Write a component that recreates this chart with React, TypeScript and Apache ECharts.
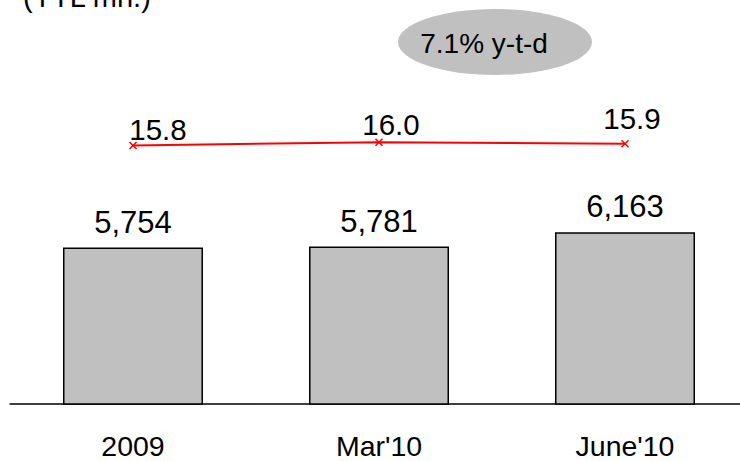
import React, { useEffect, useRef } from "react";
import * as echarts from "echarts";

const categories = ["2009", "Mar'10", "June'10"];
const barValues = [5754, 5781, 6163];
const lineValues = [15.8, 16.0, 15.9];
const unitLabel = "(YTL mn.)";
const growthLabel = "7.1% y-t-d";

const FONT = "'Liberation Sans', Arial, sans-serif";
const lineLabelOffsets = [[25, 3], [12, 2], [7, -6]];

export default function App() {
  const ref = useRef<HTMLDivElement>(null);
  useEffect(() => {
    document.body.style.margin = "0";
    if (!ref.current) return;
    const chart = echarts.init(ref.current, null, { renderer: "svg" });
    chart.setOption({
      animation: false,
      grid: { left: 10, width: 738, top: 44, bottom: 57, outerBoundsMode: "none", containLabel: false },
      xAxis: {
        type: "category",
        data: categories,
        axisTick: { show: false },
        axisLine: { show: true, lineStyle: { color: "#000", width: 1.5 } },
        axisLabel: { color: "#000", fontSize: 28.5, fontFamily: FONT, margin: 27 },
      },
      yAxis: [
        { type: "value", min: 1600, max: 11162, show: false, splitLine: { show: false } },
        { type: "value", min: 0, max: 22, show: false, splitLine: { show: false } },
      ],
      series: [
        {
          type: "bar",
          data: barValues,
          barWidth: 140,
          itemStyle: { color: "#c0c0c0", borderColor: "#000", borderWidth: 1.5 },
          label: {
            show: true,
            position: "top",
            distance: 10,
            color: "#000",
            fontSize: 31,
            fontFamily: FONT,
            formatter: (p: any) => p.value.toLocaleString("en-US"),
          },
        },
        {
          type: "line",
          yAxisIndex: 1,
          data: lineValues.map((v, i) => ({
            value: v,
            label: { offset: lineLabelOffsets[i] },
          })),
          symbol: "path://M0 0L10 10M10 0L0 10",
          symbolSize: 7,
          lineStyle: { color: "#ff0000", width: 2 },
          itemStyle: { color: "#ff0000", borderColor: "#ff0000", borderWidth: 1.5 },
          label: {
            show: true,
            position: "top",
            distance: 0,
            color: "#000",
            fontSize: 29.5,
            fontFamily: FONT,
            formatter: (p: any) => p.value.toFixed(1),
          },
        },
      ],
      graphic: [
        {
          type: "text",
          left: 23,
          top: -18,
          style: { text: unitLabel, fontSize: 29, fontFamily: FONT, fill: "#000" },
        },
        {
          type: "ellipse",
          shape: { cx: 495, cy: 42, rx: 97, ry: 33 },
          style: { fill: "#c0c0c0" },
        },
        {
          type: "text",
          x: 484,
          y: 43,
          style: {
            text: growthLabel,
            fontSize: 28,
            fontFamily: FONT,
            fill: "#000",
            align: "center",
            verticalAlign: "middle",
          },
        },
      ],
    });
    return () => chart.dispose();
  }, []);
  return <div ref={ref} style={{ width: 740, height: 461 }} />;
}
